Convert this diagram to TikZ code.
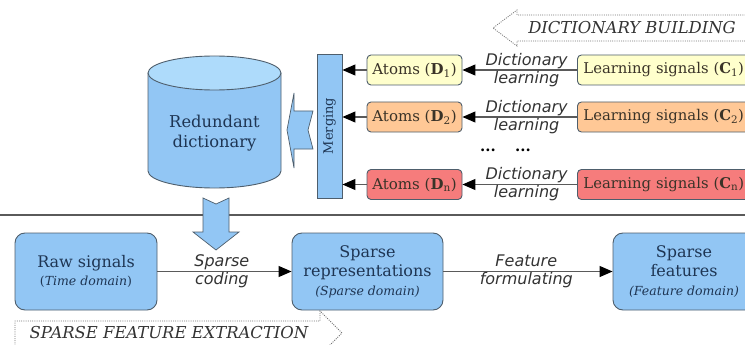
\documentclass[tikz,border=0pt]{standalone}
\usepackage{fontspec}
\setmainfont{DejaVu Serif}
\newfontfamily\lblfont{DejaVu Sans}
\usetikzlibrary{arrows.meta}
\definecolor{bluefill}{HTML}{92C6F4}
\definecolor{bluetop}{HTML}{AEDBFB}
\definecolor{edgecol}{HTML}{4E5E6C}
\definecolor{yelf}{HTML}{FFFFCC}
\definecolor{oraf}{HTML}{FFC896}
\definecolor{redf}{HTML}{F67C7C}
\definecolor{txtblue}{HTML}{1E3553}
\definecolor{txtdark}{HTML}{3A3328}
\definecolor{linecol}{HTML}{5A5A5A}
\begin{document}
\begin{tikzpicture}[x=1pt,y=-1pt,
  bigbox/.style={draw=edgecol, line width=0.9pt, fill=bluefill, rounded corners=10pt,
    text=txtblue, align=center, minimum height=77pt, inner xsep=1pt,
    font=\fontsize{16}{19.5}\selectfont},
  smallbox/.style={draw=edgecol, line width=0.9pt, rounded corners=4pt, text=txtdark,
    minimum height=30pt, inner xsep=5pt, font=\fontsize{15}{18}\selectfont},
  sigbox/.style={smallbox, anchor=west, inner xsep=6pt, text width=180pt, align=left,
    font=\fontsize{14.8}{18}\selectfont},
  conn/.style={draw=linecol, line width=1.2pt, -{Triangle[length=13pt,width=11pt,fill=black,color=black]}},
  lbl/.style={align=center, text=black!80, font=\lblfont\itshape\fontsize{16}{18}\selectfont},
  blk/.style={fill=bluefill, draw=edgecol, line width=0.7pt, line join=miter},
  banner/.style={draw=black!55, line width=0.8pt, dash pattern=on 1pt off 1.2pt},
  bannertxt/.style={text=black!80, font=\itshape\fontsize{16.4}{19}\selectfont},
  dotsty/.style={font=\bfseries\fontsize{15}{18}\selectfont}
]
\useasboundingbox (0,0) rectangle (745,345);

% banners
\draw[banner] (750,15) -- (517,15) -- (517,10) -- (493,28) -- (517,46) -- (517,41) -- (750,41);
\node[bannertxt] (bdict) at (632,28) {DICTIONARY BUILDING};
\draw[banner] (15,350) -- (15,321) -- (320,321) -- (320,311) -- (342,333) -- (320,355);
\node[bannertxt] (bsparse) at (169,333) {SPARSE FEATURE EXTRACTION};

% separator
\draw[draw=linecol, line width=1.2pt] (0,215) -- (745,215);

% cylinder
\fill[bluefill] (148,73) -- (148,171) arc[start angle=180,end angle=360,x radius=66.5pt,y radius=17pt] -- (281,73) -- cycle;
\draw[edgecol, line width=0.9pt] (148,73) -- (148,171) arc[start angle=180,end angle=360,x radius=66.5pt,y radius=17pt] -- (281,73);
\filldraw[fill=bluetop, draw=edgecol, line width=0.9pt] (214.5,73) ellipse [x radius=66.5pt, y radius=17pt];
\node[text=txtblue, align=center, font=\fontsize{16.3}{20}\selectfont] (dict) at (214.5,133) {Redundant\\dictionary};

% merging
\node[draw=edgecol, line width=0.9pt, fill=bluefill, minimum width=25pt, minimum height=144pt,
  inner sep=0pt] (merge) at (329.5,126) {};
\node[rotate=90, text=txtblue, font=\fontsize{13}{15}\selectfont] (mergetxt) at (merge.center) {Merging};

% block arrows
\filldraw[blk] (313,111) -- (294,111) -- (294,93) -- (287,130) -- (294,168) -- (294,149) -- (313,149) -- (308,130) -- cycle;
\filldraw[blk] (203,198) -- (216,204) -- (229,198) -- (229,232) -- (239,232) -- (216,250) -- (193,232) -- (203,232) -- cycle;

% atoms
\node[smallbox, fill=yelf, minimum width=95pt] (a1) at (414.5,70) {Atoms (\textbf{D}\textsubscript{1})};
\node[smallbox, fill=oraf, minimum width=95pt] (a2) at (414.5,117) {Atoms (\textbf{D}\textsubscript{2})};
\node[smallbox, fill=redf, minimum width=95pt] (an) at (414.5,184.5) {Atoms (\textbf{D}\textsubscript{n})};

% learning signals
\node[sigbox, fill=yelf] (l1) at (577,70) {Learning signals (\textbf{C}\textsubscript{1})};
\node[sigbox, fill=oraf] (l2) at (577,117) {Learning signals (\textbf{C}\textsubscript{2})};
\node[sigbox, fill=redf] (ln) at (577,184.5) {Learning signals (\textbf{C}\textsubscript{n})};

% dots
\node[dotsty] (dots1) at (488,150) {...};
\node[dotsty] (dots2) at (523,150) {...};

% connectors top
\draw[conn] (l1.west) -- (a1.east) node[lbl, pos=0.44] (lab1) {Dictionary\\learning};
\draw[conn] (l2.west) -- (a2.east) node[lbl, pos=0.44] (lab2) {Dictionary\\learning};
\draw[conn] (ln.west) -- (an.east) node[lbl, pos=0.44] (labn) {Dictionary\\learning};
\draw[conn] (a1.west) -- (merge.east |- a1.west);
\draw[conn] (a2.west) -- (merge.east |- a2.west);
\draw[conn] (an.west) -- (merge.east |- an.west);

% bottom row
\node[bigbox, minimum width=142pt] (raw) at (86,271.5) {Raw signals\\[-1pt]{\fontsize{12.5}{15}\selectfont(\textit{Time domain})}};
\node[bigbox, minimum width=151pt] (rep) at (367.5,271.5) {Sparse\\representations\\[-1pt]{\fontsize{12.5}{15}\selectfont\itshape(Sparse domain)}};
\node[bigbox, minimum width=142pt] (feat) at (684,271.5) {Sparse\\features\\[-1pt]{\fontsize{12.5}{15}\selectfont\itshape(Feature domain)}};

\draw[conn] (raw.east) -- (rep.west) node[lbl, pos=0.48] (labsc) {Sparse\\coding};
\draw[conn] (rep.east) -- (feat.west) node[lbl, pos=0.49] (labff) {Feature\\formulating};
\end{tikzpicture}
\end{document}
